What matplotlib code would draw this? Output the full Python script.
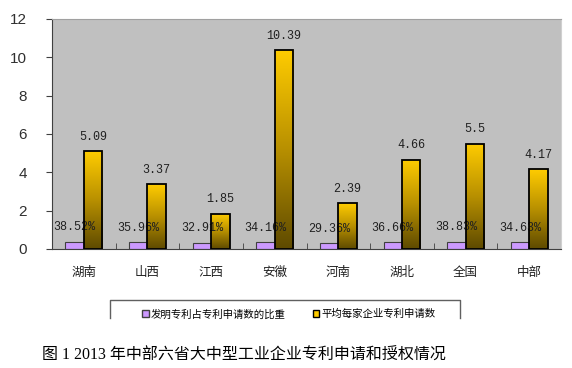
import matplotlib.pyplot as plt
import numpy as np
from matplotlib.patches import Patch
from matplotlib.lines import Line2D
from matplotlib.colors import LinearSegmentedColormap

provinces = ["湖南", "山西", "江西", "安徽", "河南", "湖北", "全国", "中部"]
invention_share = [0.3852, 0.3596, 0.3291, 0.3416, 0.2936, 0.3666, 0.3883, 0.3463]
avg_apps = [5.09, 3.37, 1.85, 10.39, 2.39, 4.66, 5.5, 4.17]
share_labels = ["38.52%", "35.96%", "32.91%", "34.16%", "29.36%", "36.66%", "38.83%", "34.63%"]
yticks = [0, 2, 4, 6, 8, 10, 12]

cjk = ["Noto Sans CJK SC", "DejaVu Sans"]

fig = plt.figure(figsize=(5.72, 3.68), dpi=100)
ax = fig.add_axes([0.0909, 0.3234, 0.890, 0.625])
ax.set_facecolor("#c0c0c0")

x = np.arange(len(provinces))
w = 0.29
purple = ax.bar(x - w / 2, invention_share, w, color="#cc99ff", edgecolor="#404040", linewidth=0.8, zorder=2)
gold = ax.bar(x + w / 2, avg_apps, w, color="none", edgecolor="black", linewidth=1.3, zorder=4)

# vertical gradient inside the yellow bars
cmap = LinearSegmentedColormap.from_list("gold", ["#5e4a00", "#b89000", "#ffcc00"])
grad = np.linspace(0, 1, 256).reshape(-1, 1)
for b in gold:
    x0, y0 = b.get_x(), b.get_y()
    im = ax.imshow(grad, extent=(x0, x0 + b.get_width(), y0, y0 + b.get_height()),
                   origin="lower", cmap=cmap, aspect="auto", zorder=3)
    im.set_clip_path(b)

for b, lab in zip(purple, share_labels):
    ax.annotate(lab, (b.get_x() + b.get_width() / 2, b.get_height()), xytext=(0, 6),
                textcoords="offset points", ha="center", va="bottom",
                family="Liberation Mono", fontsize=8.5, color="#202020", zorder=3)
for b, v in zip(gold, avg_apps):
    ax.annotate(f"{v:g}", (b.get_x() + b.get_width() / 2, b.get_height()), xytext=(0, 6),
                textcoords="offset points", ha="center", va="bottom",
                family="Liberation Mono", fontsize=8.5, color="#202020", zorder=5)

ax.set_xlim(-0.5, len(provinces) - 0.5)
ax.set_ylim(0, 12)
ax.set_yticks(yticks)
ax.set_yticklabels([str(t) for t in yticks], family="Liberation Sans", fontsize=11, color="#303030")
ax.tick_params(axis="y", direction="out", length=4, color="#404040", pad=14)
ax.set_xticks(x)
ax.set_xticklabels(provinces, family=cjk, fontsize=9, color="#202020")
ax.tick_params(axis="x", length=0, pad=12)
ax.set_xticks(np.arange(0.5, len(provinces) - 0.5, 1), minor=True)
ax.tick_params(axis="x", which="minor", direction="in", length=4, color="#404040")

ax.spines["left"].set_color("#404040")
ax.spines["bottom"].set_color("#404040")
ax.spines["top"].set_color("#a0a0a0")
ax.spines["right"].set_color("#d0d0d0")

handles = [Patch(facecolor="#cc99ff", edgecolor="#404040", label="发明专利占专利申请数的比重"),
           Patch(facecolor="#ffcc00", edgecolor="black", label="平均每家企业专利申请数")]
fig.legend(handles=handles, loc="center", bbox_to_anchor=(0.505, 0.146), ncol=2, frameon=False,
           prop={"family": cjk, "size": 7.5}, handlelength=0.6, handleheight=0.6,
           handletextpad=0.2, columnspacing=2.6)

# legend frame (bottom edge cut off in the original)
bx0, bx1 = 110 / 572, 460 / 572
by0, by1 = 1 - 318 / 368, 1 - 300 / 368
fig.add_artist(Line2D([bx0, bx0, bx1, bx1], [by0, by1, by1, by0], color="#606060", linewidth=1.0))

fig.text(0.074, 1 - 356 / 368, "图 1 2013 年中部六省大中型工业企业专利申请和授权情况",
         family=["Liberation Serif", "Noto Sans CJK SC"], fontsize=11.5, va="center", ha="left")

fig.savefig("out.png", dpi=100)
